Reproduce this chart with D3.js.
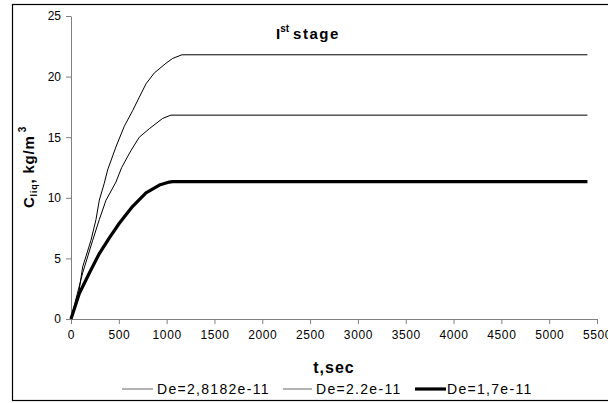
<!DOCTYPE html>
<html>
<head>
<meta charset="utf-8">
<script src="https://cdnjs.cloudflare.com/ajax/libs/d3/7.8.5/d3.min.js"></script>
<style>
  body { margin: 0; background: #fff; }
  text { font-family: Arial, "Liberation Sans", sans-serif; fill: #000; }
</style>
</head>
<body>
<div id="chart"></div>
<script>
// values
var tA = [0, 80, 122, 209, 261, 296, 348, 383, 470, 557, 645, 714, 784, 871, 993, 1063, 1160, 5400];
var cA = [0, 2.1, 4.3, 6.5, 8.2, 9.8, 11.2, 12.3, 14.2, 15.9, 17.2, 18.3, 19.4, 20.3, 21.1, 21.5, 21.8, 21.8];

var tB = [0, 60, 122, 227, 296, 366, 470, 530, 627, 714, 819, 958, 1045, 5400];
var cB = [0, 1.9, 3.8, 6.5, 8.2, 9.8, 11.3, 12.5, 13.9, 15.0, 15.7, 16.55, 16.82, 16.82];

var tC = [0, 87, 192, 296, 401, 505, 645, 784, 924, 1028, 1060, 5400];
var cC = [0, 2.1, 3.8, 5.4, 6.7, 7.9, 9.3, 10.4, 11.05, 11.3, 11.33, 11.33];

var seriesNames = ["De=2,8182e-11", "De=2.2e-11", "De=1,7e-11"];
var xTicks = [0, 500, 1000, 1500, 2000, 2500, 3000, 3500, 4000, 4500, 5000, 5500];
var yTicks = [0, 5, 10, 15, 20, 25];

var svgWidth = 608;
var svgHeight = 403;

var margin = { top: 16, right: 11, bottom: 84, left: 71 };
var width = svgWidth - margin.left - margin.right;
var height = svgHeight - margin.top - margin.bottom;

var svg = d3.select("#chart")
  .append("svg")
  .attr("width", svgWidth)
  .attr("height", svgHeight);

// outer frame (right side runs off the picture)
svg.append("rect")
  .attr("x", 12.5)
  .attr("y", 4.5)
  .attr("width", 620)
  .attr("height", 396)
  .attr("fill", "none")
  .attr("stroke", "#000")
  .attr("stroke-width", 1.2);

var chartGroup = svg.append("g")
  .attr("transform", `translate(${margin.left}, ${margin.top})`);

var x = d3.scaleLinear().domain([0, 5500]).range([0, width]);
var y = d3.scaleLinear().domain([0, 25]).range([height, 0]);

// axes
var xAxis = chartGroup.append("g")
  .attr("transform", `translate(0, ${height})`)
  .call(d3.axisBottom(x).tickValues(xTicks).tickFormat(d3.format("d"))
    .tickSize(5).tickSizeOuter(0).tickPadding(6));

var yAxis = chartGroup.append("g")
  .call(d3.axisLeft(y).tickValues(yTicks).tickSize(5).tickSizeOuter(0).tickPadding(5));

[xAxis, yAxis].forEach(function(ax) {
  ax.selectAll("path, line").attr("stroke", "#808080");
  ax.selectAll("text")
    .style("font-family", "Arial, 'Liberation Sans', sans-serif")
    .style("font-size", "12px")
    .attr("fill", "#000");
});
xAxis.selectAll("text").style("letter-spacing", "0.6px");

// lines
var line = d3.line()
  .x(d => x(d[0]))
  .y(d => y(d[1]));

var seriesData = [
  { t: tA, c: cA, w: 1 },
  { t: tB, c: cB, w: 1 },
  { t: tC, c: cC, w: 3.2 }
];

seriesData.forEach(function(s) {
  var pts = s.t.map((t, i) => [t, s.c[i]]);
  chartGroup.append("path")
    .datum(pts)
    .attr("d", line)
    .attr("fill", "none")
    .attr("stroke", "#000")
    .attr("stroke-width", s.w)
    .attr("stroke-linejoin", "round");
});

// title
var title = svg.append("text")
  .attr("x", 276)
  .attr("y", 39)
  .style("font-size", "15px")
  .style("font-weight", "bold");
title.append("tspan").text("I");
title.append("tspan").attr("dy", -7).style("font-size", "10px").text("st");
title.append("tspan").attr("dy", 7).attr("dx", 4).style("letter-spacing", "1.5px").text("stage");

// x title
svg.append("text")
  .attr("x", margin.left + width / 2)
  .attr("y", 373)
  .attr("text-anchor", "middle")
  .style("font-size", "16px")
  .style("font-weight", "bold")
  .style("letter-spacing", "1px")
  .text("t,sec");

// y title
var yTitle = svg.append("text")
  .attr("transform", "translate(34, 167) rotate(-90)")
  .attr("text-anchor", "middle")
  .style("font-size", "15px")
  .style("font-weight", "bold")
  .style("letter-spacing", "0.8px");
yTitle.append("tspan").text("C");
yTitle.append("tspan").attr("dy", 3).style("font-size", "9px").text("liq");
yTitle.append("tspan").attr("dy", -3).text(", kg/m");
yTitle.append("tspan").attr("dy", -8).attr("dx", 3).style("font-size", "10px").text("3");

// legend
var legendItems = [
  { x0: 122, x1: 153, tx: 157, w: 1, col: "#666" },
  { x0: 283, x1: 312, tx: 316, w: 1, col: "#666" },
  { x0: 415, x1: 446, tx: 447, w: 3.2, col: "#000" }
];
var legendGroup = svg.append("g");
legendItems.forEach(function(it, i) {
  legendGroup.append("line")
    .attr("x1", it.x0).attr("x2", it.x1)
    .attr("y1", 389).attr("y2", 389)
    .attr("stroke", it.col)
    .attr("stroke-width", it.w);
  legendGroup.append("text")
    .attr("x", it.tx)
    .attr("y", 394)
    .style("font-size", "14px")
    .style("letter-spacing", "1.3px")
    .text(seriesNames[i]);
});
</script>
</body>
</html>
